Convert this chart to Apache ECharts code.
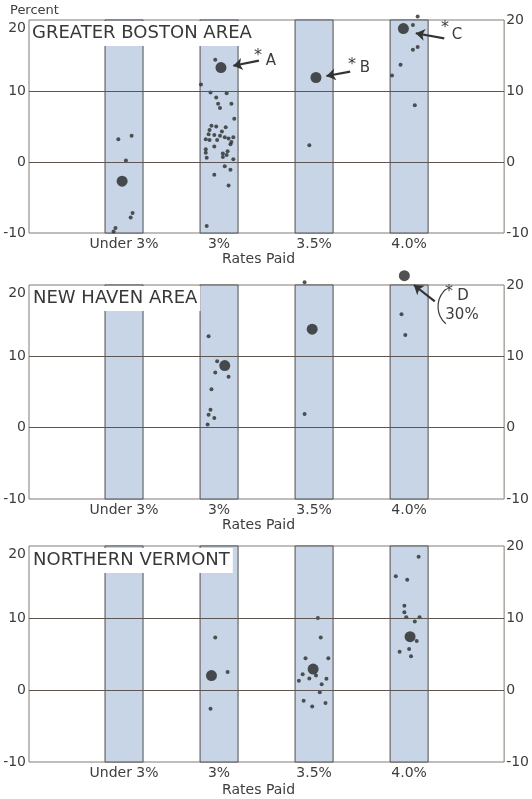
<!DOCTYPE html>
<html>
<head>
<meta charset="utf-8">
<title>Rates Paid</title>
<script src="https://cdn.jsdelivr.net/npm/echarts@6.0.0/dist/echarts.min.js"></script>
<style>
	html, body { margin: 0; padding: 0; background: #fff; }
	#main { width: 532px; height: 799px; }
</style>
</head>
<body>
<div id="main"></div>
<script>
var rateLabels = ['Under 3%', '3%', '3.5%', '4.0%'];
var percentTicks = [-10, 0, 10, 20];
var panelNames = ['GREATER BOSTON AREA', 'NEW HAVEN AREA', 'NORTHERN VERMONT'];

// [position on the rate axis (1..4 + jitter), percent]
var bostonDots = [
	[0.94, 3.2], [1.08, 3.7], [1.02, 0.2], [1.09, -7.2], [1.07, -7.8], [0.91, -9.3], [0.89, -9.8],
	[1.96, 14.4], [1.81, 10.9], [1.91, 9.8], [2.08, 9.7], [1.97, 9.1], [2.13, 8.2], [1.99, 8.2],
	[2.01, 7.6], [2.16, 6.1], [1.92, 5.1], [1.97, 5.0], [2.07, 4.9], [1.90, 4.5], [2.03, 4.3],
	[1.89, 3.9], [1.95, 3.8], [2.01, 3.7], [2.06, 3.5], [2.15, 3.5], [2.10, 3.3], [1.86, 3.2],
	[1.90, 3.1], [1.98, 3.1], [2.13, 2.8], [2.12, 2.5], [1.95, 2.2], [1.86, 1.8], [2.09, 1.5],
	[1.86, 1.3], [2.04, 1.2], [2.08, 1.0], [1.87, 0.6], [2.15, 0.4], [2.04, 0.7], [2.06, -0.6],
	[2.12, -1.1], [1.95, -1.8], [2.10, -3.3], [1.87, -9.0],
	[2.95, 2.35],
	[4.04, 19.3], [4.09, 20.5], [4.09, 16.2], [4.04, 15.8], [3.91, 13.7], [3.82, 12.2], [4.06, 8.0]
];
var bostonBig = [[0.98, -2.7], [2.02, 13.3], [3.02, 11.9], [3.94, 18.8]];

var newHavenDots = [
	[1.89, 12.8], [1.98, 9.3], [1.96, 7.75], [2.10, 7.15], [1.92, 5.4], [1.91, 2.5], [1.89, 1.8],
	[1.95, 1.35], [1.88, 0.45],
	[2.90, 20.4], [2.90, 1.9],
	[3.92, 15.9], [3.96, 13.0]
];
var newHavenBig = [[2.06, 8.7], [2.98, 13.8], [3.95, 21.3]];

var vermontDots = [
	[1.96, 7.3], [2.09, 2.5], [1.91, -2.6],
	[3.04, 10.0], [3.07, 7.3], [2.91, 4.4], [3.15, 4.4], [2.88, 2.2], [2.95, 1.6], [3.02, 2.0],
	[2.84, 1.3], [3.13, 1.55], [3.08, 0.8], [3.06, -0.3], [2.89, -1.5], [3.12, -1.8], [2.98, -2.3],
	[4.10, 18.5], [3.86, 15.8], [3.98, 15.3], [3.95, 11.7], [3.95, 10.8], [3.97, 10.1], [4.11, 10.1],
	[4.06, 9.5], [4.08, 6.8], [3.90, 5.3], [4.00, 5.7], [4.02, 4.7]
];
var vermontBig = [[1.92, 2.0], [2.99, 2.9], [4.01, 7.4]];

// arrows: [from, to] in chart values (markLine drops points above the axis max, so D stops at 20)
var bostonArrows = [
	[[2.42, 14.27], [2.15, 13.56]],
	[[3.38, 12.72], [3.13, 12.11]],
	[[4.37, 17.42], [4.07, 18.13]]
];
var newHavenArrows = [
	[[4.27, 17.71], [4.05, 20.0]]
];
var vermontArrows = [];

var dotsList = [bostonDots, newHavenDots, vermontDots];
var bigList = [bostonBig, newHavenBig, vermontBig];
var arrowList = [bostonArrows, newHavenArrows, vermontArrows];

var textColor = '#3d3d3d';
var panels = [
	{ top: 20, height: 213, nameGap: 16, titleTop: 21, titleLeft: 30 },
	{ top: 285, height: 214, nameGap: 18, titleTop: 286, titleLeft: 31 },
	{ top: 546, height: 216, nameGap: 21, titleTop: 548, titleLeft: 31 }
];

var myChart = echarts.init(document.getElementById('main'));

var grids = [], xAxes = [], yAxes = [], series = [], titles = [];
panels.forEach(function (p, i) {
	grids.push({
		left: 29, top: p.top, width: 480, height: p.height,
		show: true, borderColor: '#857b72', borderWidth: 1, backgroundColor: 'transparent'
	});
	xAxes.push({
		gridIndex: i, type: 'value', min: 0, max: rateLabels.length + 1, interval: 1,
		axisLine: { show: false }, axisTick: { show: false }, splitLine: { show: false },
		axisLabel: {
			margin: 4, fontSize: 14, color: textColor,
			formatter: function (v) { return rateLabels[v - 1] || ''; }
		},
		name: 'Rates Paid', nameLocation: 'middle', nameGap: p.nameGap,
		nameTextStyle: { fontSize: 14, color: textColor, padding: [0, 16, 0, 0] }
	});
	var yBase = {
		gridIndex: i, type: 'value',
		min: percentTicks[0], max: percentTicks[percentTicks.length - 1], interval: 10,
		axisLine: { show: false }, axisTick: { show: false }, splitLine: { show: false }
	};
	yAxes.push(Object.assign({}, yBase, {
		position: 'left',
		axisLabel: {
			margin: 3, fontSize: 14, color: textColor,
			formatter: function (v) { return v === 20 ? '{t|20}' : String(v); },
			rich: { t: { fontSize: 14, color: textColor, padding: [16, 0, 0, 0] } }
		}
	}));
	yAxes.push(Object.assign({}, yBase, {
		position: 'right',
		axisLabel: { margin: 2, fontSize: 14, color: textColor }
	}));
	titles.push({
		text: panelNames[i], left: p.titleLeft, top: p.titleTop,
		backgroundColor: '#fff', padding: [2, 3, 3, 2],
		textStyle: { fontSize: 18, fontWeight: 'normal', color: '#383838', lineHeight: 20, fontFamily: 'DejaVu Sans' }
	});

	series.push({
		type: 'scatter', xAxisIndex: i, yAxisIndex: 2 * i,
		data: dotsList[i], symbolSize: 4, clip: false, silent: true,
		itemStyle: { color: '#2c2c2c' },
		markArea: {
			silent: true,
			itemStyle: { color: '#c8d5e6', borderColor: '#4e4e4e', borderWidth: 1 },
			data: rateLabels.map(function (r, k) {
				return [{ xAxis: k + 1 - 0.2 }, { xAxis: k + 1 + 0.2 }];
			})
		},
		markLine: {
			silent: true, symbol: 'none', label: { show: false },
			lineStyle: { color: '#5d5650', width: 1, type: 'solid' },
			data: percentTicks.slice(1, -1).map(function (t) { return { yAxis: t }; })
		}
	});
	series.push({
		type: 'scatter', xAxisIndex: i, yAxisIndex: 2 * i,
		data: bigList[i], symbolSize: 11, clip: false, silent: true,
		itemStyle: { color: '#262626' },
		markLine: {
			silent: true, symbol: ['none', 'arrow'], symbolSize: 9,
			label: { show: false },
			lineStyle: { color: '#333', width: 2.2, type: 'solid' },
			data: arrowList[i].map(function (a) {
				return [{ coord: a[0] }, { coord: a[1] }];
			})
		}
	});
});

function note(txt, x, y, size) {
	return {
		type: 'text', x: x, y: y, z: 10,
		style: {
			text: txt, fill: textColor, font: (size || 15) + 'px "DejaVu Sans"',
			textAlign: 'center', textVerticalAlign: 'middle'
		}
	};
}

let option = {
	animation: false,
	textStyle: { fontFamily: 'DejaVu Sans' },
	title: titles,
	grid: grids,
	xAxis: xAxes,
	yAxis: yAxes,
	series: series,
	graphic: [
		{
			type: 'text', left: 10, top: 4,
			style: { text: 'Percent', fill: textColor, font: '13px "DejaVu Sans"' }
		},
		note('*', 258, 56, 16), note('A', 271, 61),
		note('*', 352, 65, 16), note('B', 365, 68),
		note('*', 445, 28, 16), note('C', 457, 35),
		note('*', 449, 292, 16), note('D', 463, 296),
		note('30%', 462, 315),
		{
			type: 'arc', z: 10,
			shape: { cx: 461, cy: 306.5, r: 23, startAngle: Math.PI - 0.85, endAngle: Math.PI + 0.85 },
			style: { stroke: textColor, fill: 'none', lineWidth: 1.2 }
		}
	]
};
myChart.setOption(option);
</script>
</body>
</html>
